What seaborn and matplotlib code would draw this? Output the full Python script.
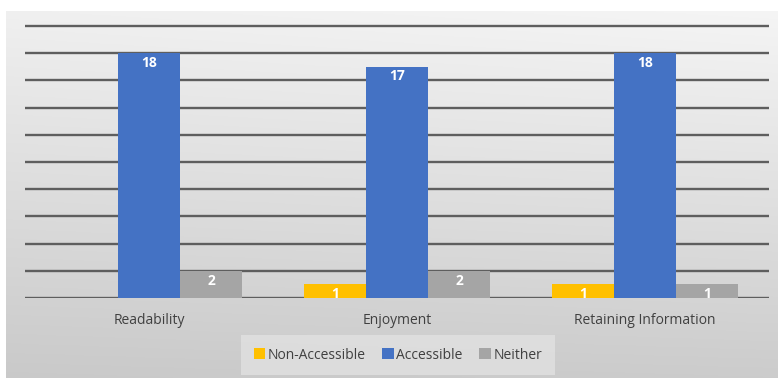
import numpy as np
import pandas as pd
import matplotlib
matplotlib.use("Agg")
import matplotlib.pyplot as plt
import seaborn as sns

# Survey responses per category
categories = ["Readability", "Enjoyment", "Retaining Information"]
series = ["Non-Accessible", "Accessible", "Neither"]
non_accessible = [0, 1, 1]
accessible = [18, 17, 18]
neither = [2, 2, 1]
colors = ["#FFC000", "#4472C4", "#A5A5A5"]

df = pd.DataFrame({
    "Category": categories * 3,
    "Group": [s for s in series for _ in categories],
    "Count": non_accessible + accessible + neither,
})

sns.set_theme(style="white")
plt.rcParams["font.family"] = ["Open Sans", "DejaVu Sans"]

W, H = 778, 378
fig = plt.figure(figsize=(W / 100, H / 100), dpi=100)
fig.patch.set_facecolor("white")

# Gradient panel behind the chart
bg = fig.add_axes([6 / W, 0, 1 - 6 / W, (H - 11) / H])
yy, xx = np.mgrid[0:1:200j, 0:1:400j]
shade = 0.94 - 0.15 * yy + 0.02 * xx - 0.01 * yy * xx
bg.imshow(np.dstack([shade] * 3), aspect="auto", origin="upper",
          extent=[0, 1, 0, 1])
bg.set_axis_off()

left, right = 25, 769
bottom_px, top_px = 298, 11
ax = fig.add_axes([left / W, (H - bottom_px) / H, (right - left) / W,
                   (bottom_px - top_px) / H])
ax.set_facecolor("none")

sns.barplot(data=df, x="Category", y="Count", hue="Group",
            hue_order=series, order=categories, palette=colors,
            width=0.75, saturation=1, ax=ax, legend=True, zorder=3,
            linewidth=0, edgecolor="none")

ax.set_ylim(0, 21.1)
ax.set_xlim(-0.5, len(categories) - 0.5)
ax.set_yticks(np.arange(0, 21, 2))
ax.yaxis.grid(True, color="#5e5e5e", linewidth=1.7, zorder=1)
ax.set_axisbelow(True)
ax.tick_params(axis="y", left=False, labelleft=False)
ax.tick_params(axis="x", bottom=False, pad=5, labelsize=10,
               labelcolor="#404040")
for s in ax.spines.values():
    s.set_visible(False)
ax.set_xlabel("")
ax.set_ylabel("")

for container in ax.containers:
    for bar in container:
        h = bar.get_height()
        if h <= 0:
            continue
        ax.annotate(f"{int(h)}", (bar.get_x() + bar.get_width() / 2, h),
                    xytext=(0, -7), textcoords="offset points",
                    ha="center", va="center", color="white",
                    fontsize=10, fontweight="bold", zorder=4,
                    annotation_clip=True, clip_on=True)

handles, labels = ax.get_legend_handles_labels()
ax.legend_.remove()
leg = fig.legend(handles, labels, loc="lower center", ncol=3,
                 bbox_to_anchor=(398 / W, -4 / H), frameon=True,
                 fontsize=10, handlelength=0.8, handleheight=0.8,
                 handletextpad=0.2, columnspacing=1.2,
                 borderpad=0.9, fancybox=False)
leg.get_frame().set_facecolor("#e1e1e1")
leg.get_frame().set_edgecolor("none")
for t in leg.get_texts():
    t.set_color("#404040")

fig.savefig("out.png", dpi=100)
